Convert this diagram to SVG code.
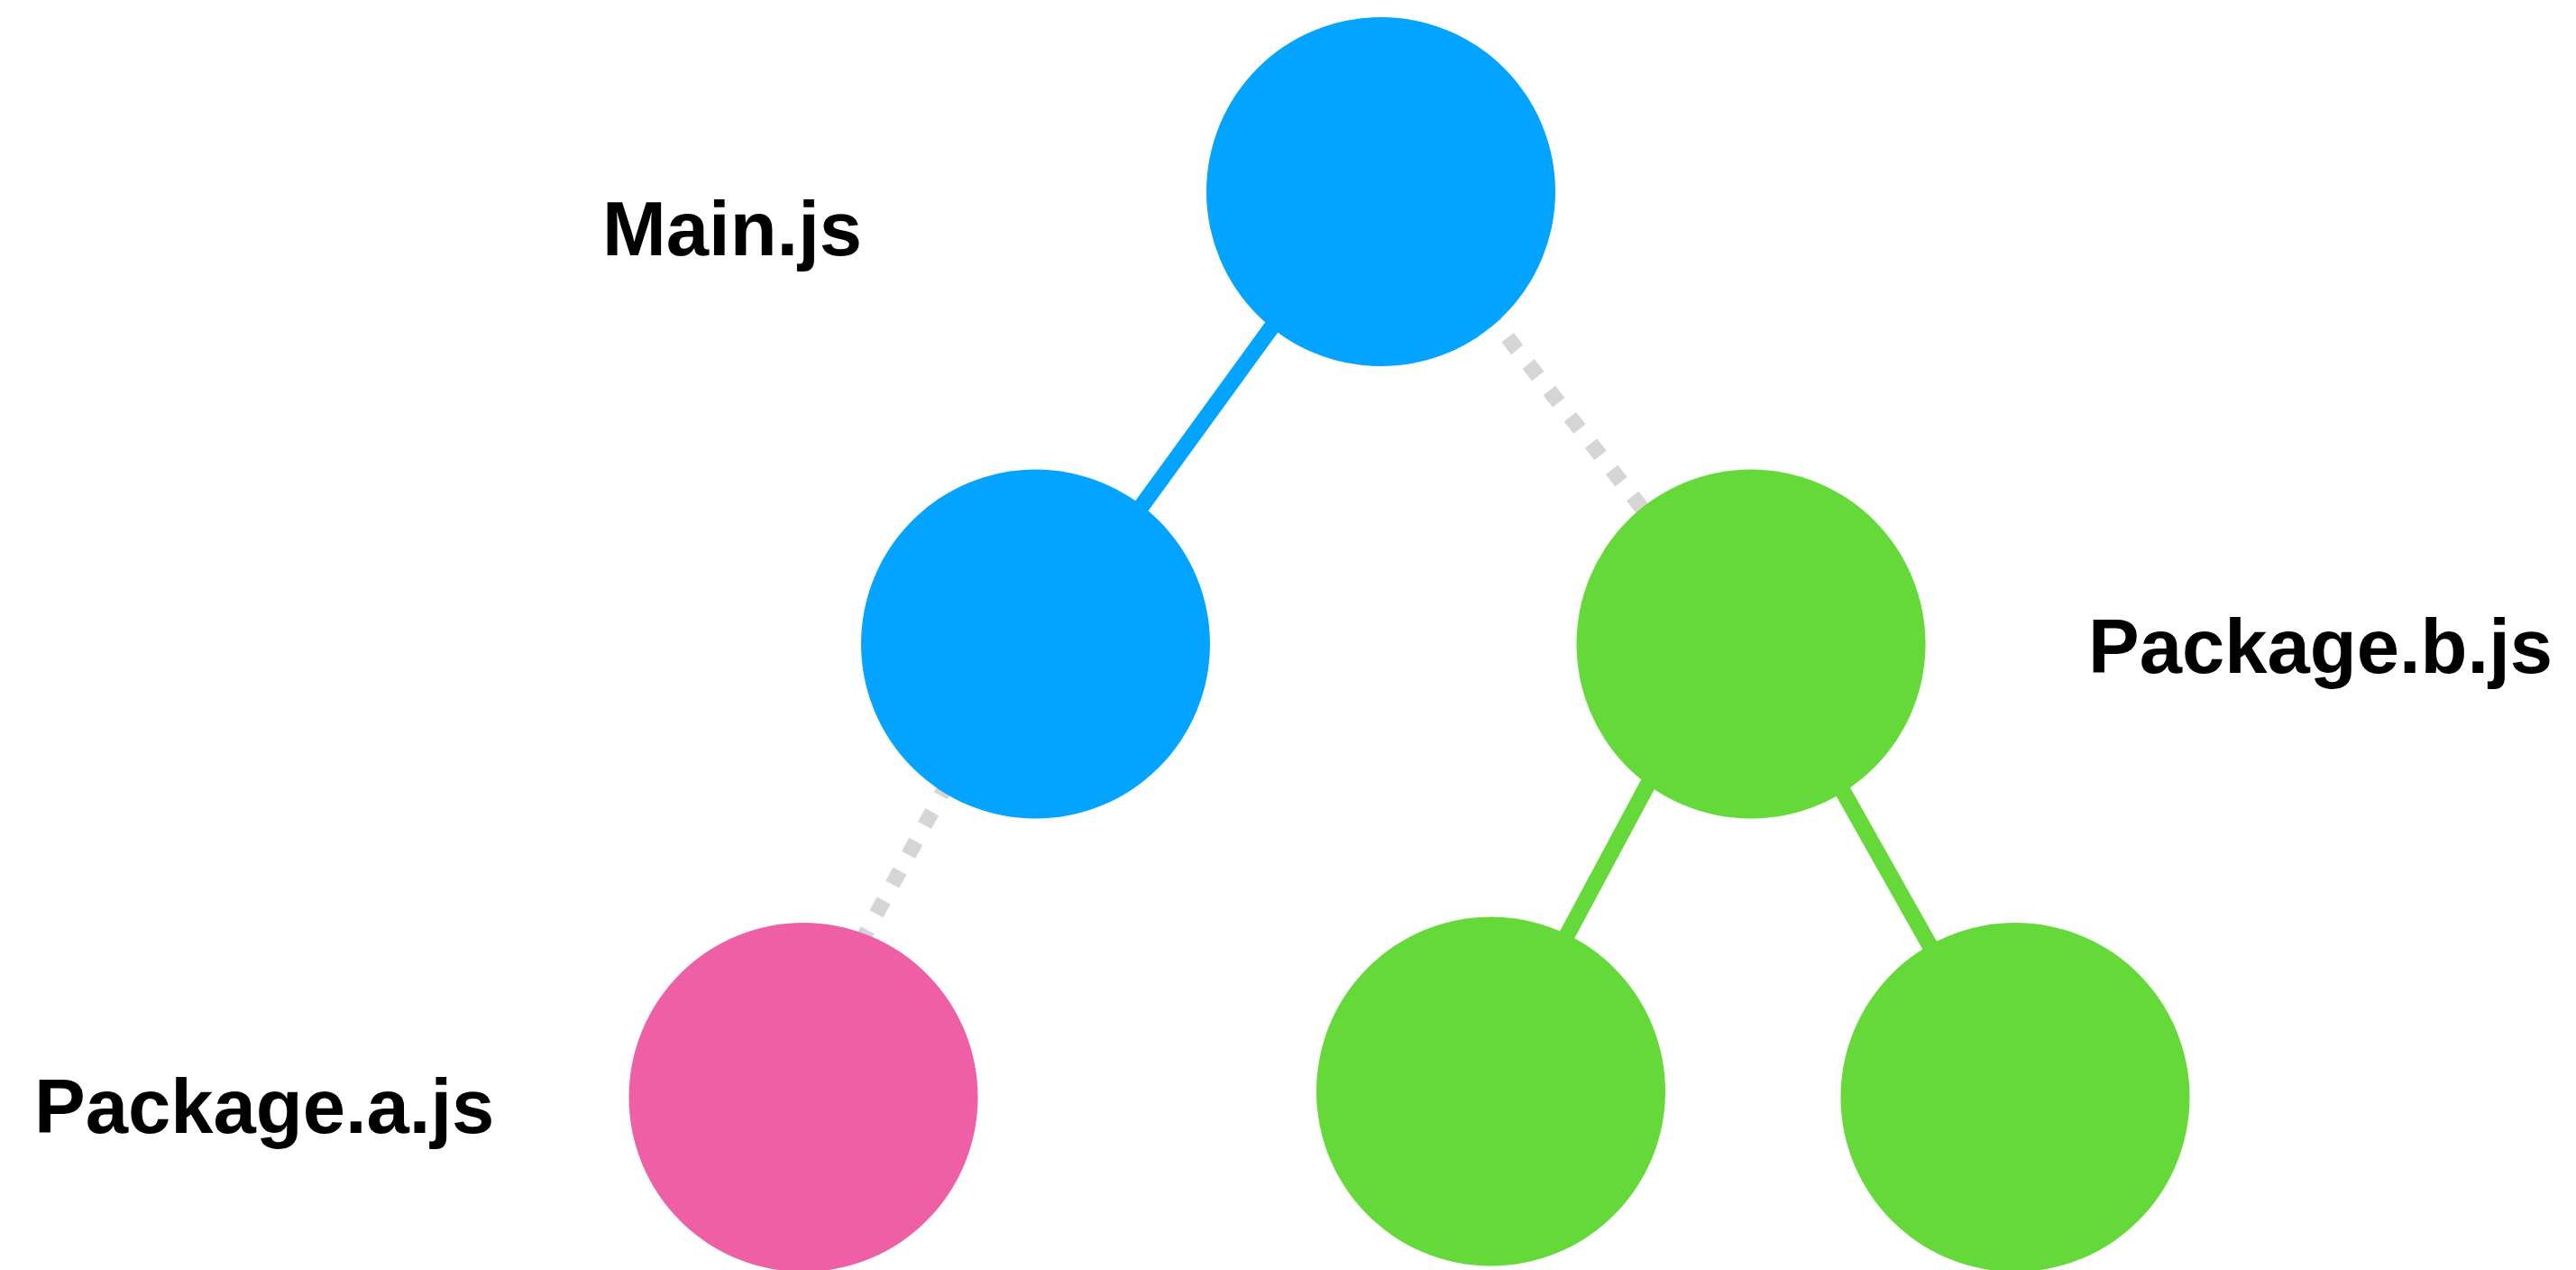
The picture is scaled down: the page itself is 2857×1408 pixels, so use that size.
<svg xmlns="http://www.w3.org/2000/svg" width="2857" height="1408" viewBox="0 0 2857 1408">
<style>
.blue{fill:#03A4FF}
.green{fill:#64D939}
.pink{fill:#EE5FA6}
.solid-blue{stroke:#03A4FF;stroke-width:18;fill:none}
.solid-green{stroke:#64D939;stroke-width:18;fill:none}
.dotted{stroke:#D5D5D5;stroke-width:17;stroke-dasharray:17 20.3;fill:none;stroke-linecap:butt}
.label{font-family:"Liberation Sans",Arial,Helvetica,sans-serif;font-weight:bold;font-size:85px;fill:#000}
</style>
<rect width="2857" height="1408" fill="#fff"/>
<g id="connectors">
<line class="solid-blue" x1="1520" y1="212" x2="1155" y2="714"/>
<path class="dotted" d="M1556.6,227.9 L1940,714"/>
<path class="dotted" d="M1123,736.4 L861,1216.5"/>
<line class="solid-green" x1="1911" y1="714" x2="1645" y2="1210"/>
<line class="solid-green" x1="1952" y1="714" x2="2235" y2="1216.5"/>
</g>
<g id="node-main">
<circle class="blue" cx="1531.5" cy="212.5" r="193.5"/>
<text class="label" x="668" y="283">Main.js</text>
</g>
<g id="node-a-parent">
<circle class="blue" cx="1148.5" cy="714" r="193.5"/>
</g>
<g id="node-package-a">
<circle class="pink" cx="891" cy="1216.5" r="193.5"/>
<text class="label" x="38" y="1256">Package.a.js</text>
</g>
<g id="node-package-b">
<circle class="green" cx="1942" cy="714" r="193.5"/>
<text class="label" x="2316" y="746">Package.b.js</text>
</g>
<g id="node-b-child-1">
<circle class="green" cx="1653.5" cy="1210" r="193.5"/>
</g>
<g id="node-b-child-2">
<circle class="green" cx="2235" cy="1216.5" r="193.5"/>
</g>
</svg>
